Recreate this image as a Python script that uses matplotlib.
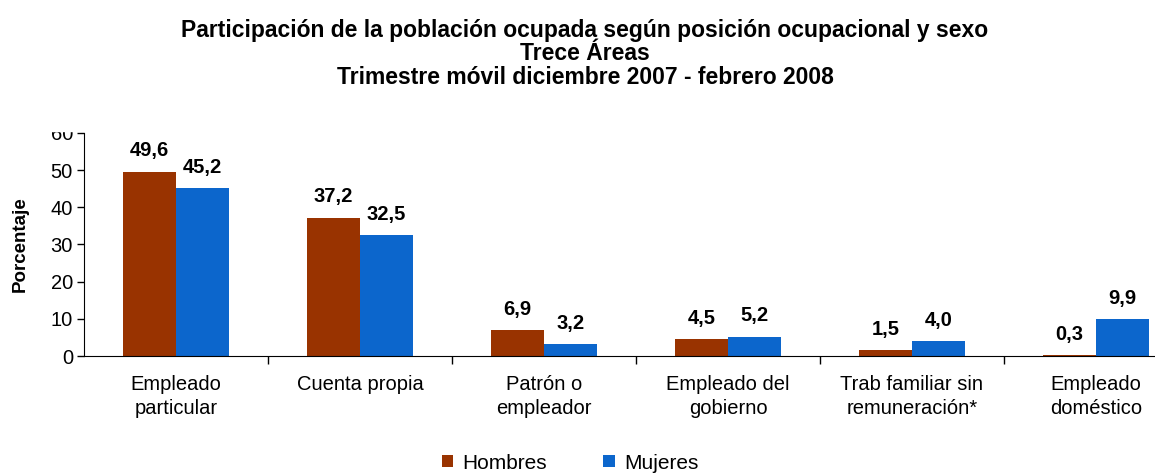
import matplotlib.pyplot as plt
from matplotlib.patches import Rectangle
import numpy as np

plt.rcParams['font.family'] = ['Liberation Sans', 'DejaVu Sans']

# datos
categorias = ['Empleado\nparticular', 'Cuenta propia', 'Patrón o\nempleador',
              'Empleado del\ngobierno', 'Trab familiar sin\nremuneración*',
              'Empleado\ndoméstico']
hombres = [49.6, 37.2, 6.9, 4.5, 1.5, 0.3]
mujeres = [45.2, 32.5, 3.2, 5.2, 4.0, 9.9]
etiq_h = ['49,6', '37,2', '6,9', '4,5', '1,5', '0,3']
etiq_m = ['45,2', '32,5', '3,2', '5,2', '4,0', '9,9']
titulo = ['Participación de la población ocupada según posición ocupacional y sexo',
          'Trece Áreas',
          'Trimestre móvil diciembre 2007 - febrero 2008']

col_h = '#993300'
col_m = '#0C66CC'

fig = plt.figure(figsize=(11.55, 4.73), dpi=100)
ax = fig.add_axes([84 / 1155, 117 / 473, 1071 / 1155, 223 / 473])

x = np.arange(len(categorias))
w = 0.29
bh = ax.bar(x - w / 2, hombres, w, color=col_h, label='Hombres')
bm = ax.bar(x + w / 2, mujeres, w, color=col_m, label='Mujeres')

for xi, v, t in zip(x - w / 2, hombres, etiq_h):
    ax.annotate(t, (xi, v), xytext=(0, 15), textcoords='offset points',
                ha='center', va='center', fontsize=14.5, fontweight='bold')
for xi, v, t in zip(x + w / 2, mujeres, etiq_m):
    ax.annotate(t, (xi, v), xytext=(0, 15), textcoords='offset points',
                ha='center', va='center', fontsize=14.5, fontweight='bold')

ax.set_yticks(range(0, 61, 10))
ax.tick_params(axis='y', labelsize=14.5, length=5, width=1, pad=3)

# marcas entre categorias
ax.set_xticks(np.arange(0.5, 5, 1))
ax.set_xticklabels([])
ax.tick_params(axis='x', length=6, width=1)
ax.set_xticks(x, minor=True)
ax.set_xticklabels(categorias, minor=True, fontsize=14.5, linespacing=1.3)
ax.tick_params(axis='x', which='minor', length=0, pad=14)

ax.set_xlim(-0.5, 1071 / 184 - 0.5)
ax.set_ylim(0, 60)

ax.spines['top'].set_visible(False)
ax.spines['right'].set_visible(False)
ax.set_ylabel('Porcentaje', fontsize=13.5, fontweight='bold', labelpad=16)

for i, linea in enumerate(titulo):
    fig.text(585 / 1155, 1 - (31 + 23 * i) / 473, linea,
             ha='center', va='center', fontsize=16.5, fontweight='bold')

# tapa la parte superior del 60, como en el original
fig.patches.append(Rectangle((0, 1 - 131 / 473), 80 / 1155, 131 / 473,
                             transform=fig.transFigure, color='white', zorder=5))

fig.legend(handles=[bh, bm], loc='center', bbox_to_anchor=(570 / 1155, 1 - 463 / 473),
           ncol=2, frameon=False, fontsize=15, handlelength=0.55, handleheight=0.55,
           handletextpad=0.45, columnspacing=2.7, borderpad=0)

fig.savefig('out.png', dpi=100)
